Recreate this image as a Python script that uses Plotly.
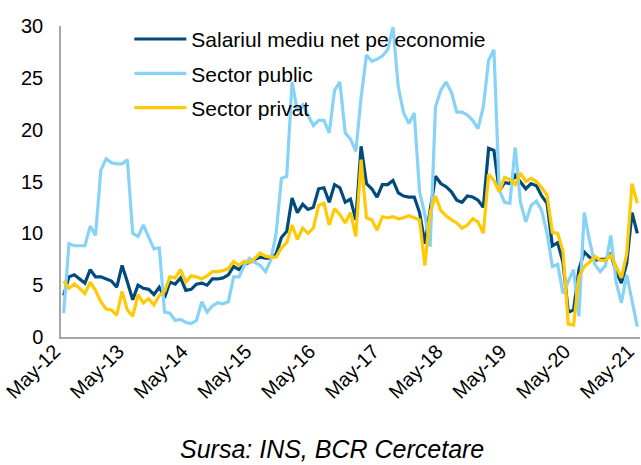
import plotly.graph_objects as go
import pandas as pd

months = list(pd.date_range("2012-05-01", periods=109, freq="MS").strftime("%b-%y"))
tick_labels = months[::12]

salariul_mediu = [
    4.0, 5.8, 6.0, 5.6, 5.2, 6.5, 5.8, 5.8, 5.6, 5.4,
    4.8, 6.9, 5.3, 3.6, 5.0, 4.7, 4.6, 4.1, 4.8, 3.8,
    5.3, 5.1, 5.7, 4.5, 4.6, 5.1, 5.2, 5.0, 5.6, 5.6,
    5.7, 6.0, 6.8, 6.5, 7.0, 7.2, 7.5, 7.7, 7.6, 7.6,
    8.0, 9.6, 10.2, 13.4, 12.0, 12.8, 12.3, 12.5, 14.3, 14.4,
    13.0, 14.7, 14.4, 13.0, 13.3, 11.3, 18.4, 14.8, 14.3, 13.5,
    14.7, 14.7, 15.1, 13.9, 13.6, 13.5, 13.5, 12.0, 9.0, 12.1,
    15.5, 14.8, 14.5, 14.0, 13.2, 13.0, 13.6, 13.5, 13.2, 12.5,
    18.2, 18.0, 14.1, 14.9, 14.8, 15.6, 15.0, 14.3, 14.8, 14.6,
    13.6, 12.9, 8.8, 9.1, 7.2, 2.4, 2.6, 6.5, 8.2, 7.7,
    7.4, 7.5, 7.5, 8.0, 6.3, 5.2, 7.1, 12.0, 10.0,
]

sector_public = [
    2.3, 9.0, 8.8, 8.8, 8.8, 10.7, 9.8, 16.1, 17.2, 16.8,
    16.7, 16.7, 17.1, 10.0, 9.7, 10.8, 9.6, 8.5, 8.6, 2.4,
    2.3, 1.6, 1.7, 1.4, 1.3, 1.6, 3.4, 2.4, 3.0, 3.3,
    3.2, 3.4, 5.8, 5.8, 6.9, 7.6, 7.2, 6.9, 6.3, 7.4,
    10.0, 15.3, 15.5, 24.6, 21.8, 22.4, 21.4, 20.4, 20.9, 20.9,
    19.7, 23.8, 24.6, 19.7, 19.1, 17.9, 23.1, 27.2, 26.6, 26.8,
    27.1, 27.7, 29.9, 24.1, 21.6, 20.6, 21.6, 14.0, 11.8, 8.7,
    22.2, 23.8, 24.6, 23.6, 21.7, 21.7, 21.4, 20.9, 20.1, 22.2,
    26.7, 27.7, 14.2, 13.0, 12.9, 18.3, 13.0, 11.1, 12.7, 13.1,
    12.2, 10.0, 6.8, 7.0, 4.2, 5.3, 6.5, 2.0, 12.0, 9.3,
    7.0, 6.3, 6.9, 9.8, 5.3, 3.3, 6.0, 3.5, 1.0,
]

sector_privat = [
    5.4, 4.7, 5.1, 4.7, 4.2, 5.3, 4.5, 3.4, 2.7, 2.6,
    2.1, 4.4, 2.6, 2.0, 4.1, 3.3, 3.7, 3.1, 4.0, 4.4,
    5.8, 5.7, 6.5, 5.3, 5.9, 5.8, 5.6, 5.9, 6.3, 6.3,
    6.4, 6.6, 7.3, 6.9, 7.3, 7.2, 7.6, 8.1, 7.8, 7.7,
    7.7, 8.6, 9.1, 10.8, 9.4, 10.5, 10.0, 10.5, 12.7, 12.9,
    10.8, 12.4, 11.8, 11.0, 12.0, 9.7, 17.1, 11.5, 11.3, 10.3,
    11.6, 11.5, 11.6, 11.4, 11.5, 11.7, 11.5, 11.3, 6.9, 12.0,
    13.6, 12.2, 11.7, 11.3, 11.0, 10.5, 10.8, 11.4, 11.1, 10.0,
    15.7, 15.1, 14.0, 15.4, 15.2, 14.7, 15.8, 15.0, 15.3, 15.0,
    14.4, 13.7, 10.1, 10.0, 8.3, 1.25, 1.15, 5.8, 6.8, 7.2,
    7.8, 7.4, 7.4, 7.9, 6.8, 5.7, 8.0, 14.8, 12.9,
]

series = [
    ("Salariul mediu net pe economie", salariul_mediu, "#004A7C"),
    ("Sector public", sector_public, "#87D3F8"),
    ("Sector privat", sector_privat, "#FFCA05"),
]

fig = go.Figure()
for i, (name, vals, color) in enumerate(series):
    fig.add_trace(go.Scatter(
        x=months, y=vals, name=name, mode="lines",
        line=dict(color=color, width=3.2),
        legendgroup=f"g{i}",
    ))

font_family = "Liberation Sans, Arial, sans-serif"
fig.update_layout(
    width=641, height=465,
    margin=dict(l=61, r=1, t=26, b=128, autoexpand=False),
    paper_bgcolor="white", plot_bgcolor="white",
    font=dict(family=font_family, size=20, color="#000000"),
    showlegend=True,
    legend=dict(
        x=0.118, y=1.023, xanchor="left", yanchor="top",
        bgcolor="rgba(0,0,0,0)", font=dict(size=21, color="#000000"),
        traceorder="grouped", tracegroupgap=4, itemwidth=52,
    ),
    xaxis=dict(
        type="category", categoryorder="array", categoryarray=months,
        range=[-0.5, len(months) - 0.5], automargin=False,
        tickmode="array", tickvals=tick_labels, ticktext=tick_labels,
        tickangle=-45, showgrid=False, zeroline=False,
        showline=True, linecolor="#A6A6A6", linewidth=1.5,
        ticks="", tickfont=dict(size=20),
        ticklabelstandoff=-7, ticklabelshift=-9,
    ),
    yaxis=dict(
        range=[0, 30], tickvals=[0, 5, 10, 15, 20, 25, 30], automargin=False,
        showgrid=False, zeroline=False,
        showline=True, linecolor="#A6A6A6", linewidth=1.5,
        ticks="", ticklabelstandoff=12, tickfont=dict(size=20),
    ),
    annotations=[dict(
        text="<i>Sursa: INS, BCR Cercetare</i>", xref="paper", yref="paper",
        x=0.468, y=-0.36, xanchor="center", yanchor="middle", showarrow=False,
        font=dict(size=25, color="#000000"),
    )],
)

# Remove the page's default body margin so the 641x465 figure fills the window.
fig.write_html(
    "out.html",
    config={"displayModeBar": False},
    post_script="document.body.style.margin='0px';document.body.style.overflow='hidden';",
)
